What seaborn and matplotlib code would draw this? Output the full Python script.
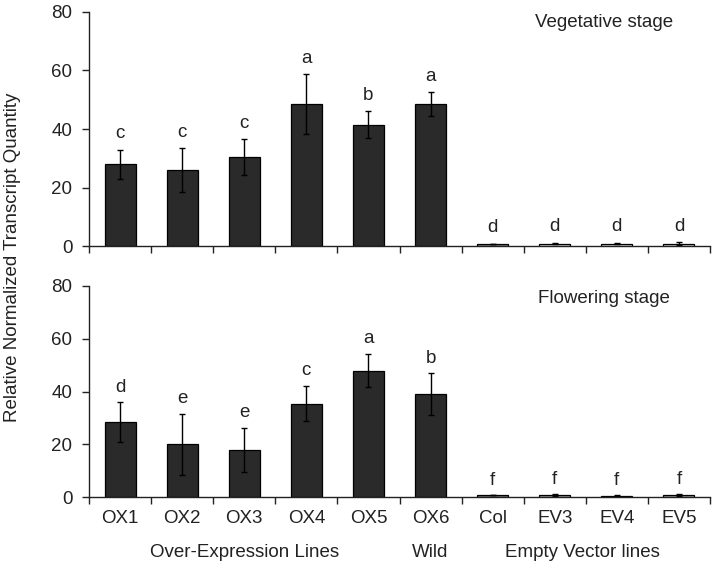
import matplotlib
matplotlib.use("Agg")
import matplotlib.pyplot as plt
import seaborn as sns
import pandas as pd
import numpy as np

categories = ["OX1", "OX2", "OX3", "OX4", "OX5", "OX6", "Col", "EV3", "EV4", "EV5"]
veg_values = [28, 26, 30.5, 48.5, 41.5, 48.5, 1.0, 1.0, 1.0, 1.0]
veg_err = [5, 7.5, 6, 10.2, 4.5, 4.0, 0, 0.3, 0.3, 0.4]
veg_letters = ["c", "c", "c", "a", "b", "a", "d", "d", "d", "d"]
flo_values = [28.5, 20, 18, 35.5, 48, 39, 0.8, 0.8, 0.5, 0.8]
flo_err = [7.5, 11.7, 8.3, 6.8, 6.3, 8.0, 0, 0.3, 0.3, 0.3]
flo_letters = ["d", "e", "e", "c", "a", "b", "f", "f", "f", "f"]
group_labels = ["Over-Expression Lines", "Wild", "Empty Vector lines"]

sns.set_style("white")
plt.rcParams['font.family'] = ['Liberation Sans', 'DejaVu Sans']
FS = 13.5
TXT = "#222222"

fig = plt.figure(figsize=(7.14, 5.65), dpi=100)
ax1 = fig.add_axes([89/714, 1-246.5/565, 621/714, 234.8/565])
ax2 = fig.add_axes([89/714, 1-497.3/565, 621/714, 211.3/565])

dark = "#2a2a2a"
veg_colors = [dark]*6 + ["#8c8c8c", "#e8e8e8", "#e8e8e8", "#e8e8e8"]
flo_colors = [dark]*6 + ["#7a7a7a", "#a8a8a8", "#a8a8a8", "#a8a8a8"]

def draw(ax, vals, errs, letters, colors, title, ty):
    df = pd.DataFrame({"line": categories, "value": vals})
    sns.barplot(data=df, x="line", y="value", hue="line", palette=colors,
                legend=False, width=0.5, edgecolor="black", linewidth=0.9,
                errorbar=None, ax=ax)
    x = np.arange(len(categories))
    ax.errorbar(x, vals, yerr=errs, fmt="none", ecolor="black",
                elinewidth=1.0, capsize=2.5, capthick=1.0)
    for xi, v, e, l in zip(x, vals, errs, letters):
        ax.text(xi, v + e + 2.5, l, ha="center", va="bottom", fontsize=FS,
                color=TXT)
    ax.set_xlim(-0.5, 9.5)
    ax.set_ylim(0, 80)
    ax.set_yticks([0, 20, 40, 60, 80])
    ax.set_xlabel("")
    ax.set_ylabel("")
    for s in ["top", "right"]:
        ax.spines[s].set_visible(False)
    for s in ["left", "bottom"]:
        ax.spines[s].set_color(TXT)
        ax.spines[s].set_linewidth(1.0)
    ax.set_xticks(np.arange(-0.5, 10, 1.0), minor=True)
    ax.tick_params(axis="x", which="minor", bottom=True, length=5,
                   width=1.0, color=TXT)
    ax.tick_params(axis="x", which="major", bottom=False, length=0)
    ax.tick_params(axis="y", left=True, length=5, width=1.0, color=TXT,
                   labelsize=FS, labelcolor=TXT, pad=7)
    ax.text(0.829, ty, title, transform=ax.transAxes, ha="center",
            va="center", fontsize=FS, color=TXT)

draw(ax1, veg_values, veg_err, veg_letters, veg_colors, "Vegetative stage", 0.956)
draw(ax2, flo_values, flo_err, flo_letters, flo_colors, "Flowering stage", 0.943)

ax1.set_xticklabels([])
ax2.set_xticks(np.arange(len(categories)))
ax2.set_xticklabels(categories)
ax2.tick_params(axis="x", which="major", labelsize=FS, labelcolor=TXT, pad=9)

xt = ax2.get_xaxis_transform()
ax2.text(2.0, -0.259, group_labels[0], transform=xt, ha="center",
         va="center", fontsize=FS, color=TXT)
ax2.text(5.0, -0.259, group_labels[1], transform=xt, ha="center",
         va="center", fontsize=FS, color=TXT)
ax2.text(7.44, -0.259, group_labels[2], transform=xt, ha="center",
         va="center", fontsize=FS, color=TXT)

fig.text(13/714, 1-257/565, "Relative Normalized Transcript Quantity",
         rotation=90, ha="center", va="center", fontsize=FS, color=TXT)

fig.savefig("out.png", dpi=100)
